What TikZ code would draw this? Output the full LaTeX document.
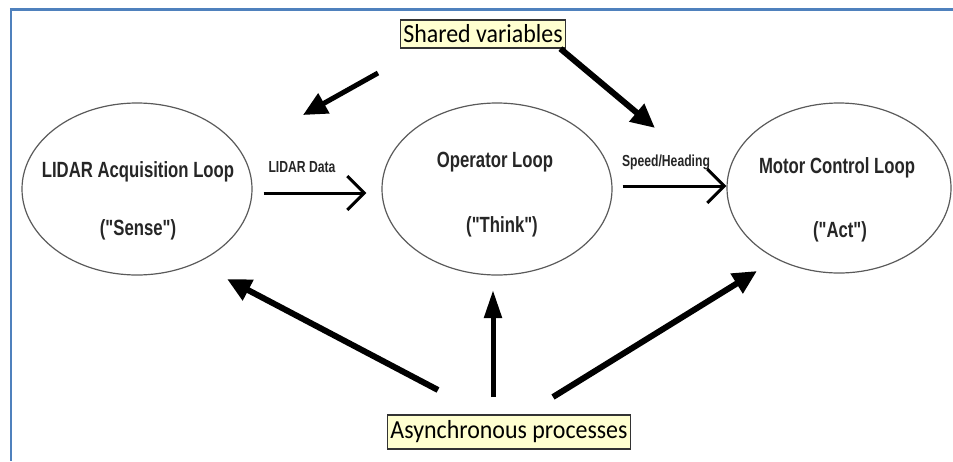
\documentclass[tikz,border=0pt]{standalone}
\usepackage{fontspec}
\usepackage{tikz}
\usetikzlibrary{arrows.meta,shapes.geometric}
\newfontfamily\loopfont[FakeStretch=0.76]{Liberation Sans}
\newfontfamily\notefont[FakeStretch=0.92]{Carlito}

\begin{document}
\begin{tikzpicture}[x=1pt,y=-1pt,
    loop/.style={draw=loopline, line width=1.2pt, ellipse, inner sep=0pt},
    looptext/.style={text=black!85, font=\loopfont\bfseries\fontsize{22}{26}\selectfont},
    datalabel/.style={text=black!85, font=\loopfont\bfseries\fontsize{16}{19}\selectfont},
    note/.style={draw=black!80, fill=notefill, line width=1.3pt, inner xsep=3pt, inner ysep=0pt,
        font=\notefont\fontsize{26}{30}\selectfont},
    flow/.style={line width=3pt, -{Straight Barb[length=17pt,width=34pt]}},
    fat/.style={line width=6pt, -{Triangle[length=24pt,width=22pt]}}]
    % Define colors
    \definecolor{frameblue}{RGB}{79,129,189}
    \definecolor{notefill}{RGB}{255,255,208}
    \definecolor{loopline}{RGB}{90,90,90}

    \useasboundingbox (0,0) rectangle (953,461);

    % Frame (top and left edge only)
    \draw[frameblue, line width=3pt] (9.75,9.5) -- (953,9.5);
    \draw[frameblue, line width=2.5pt] (11,8) -- (11,461);

    % The three loops
    \node[loop, minimum width=230pt, minimum height=172pt] (sense) at (137,189) {};
    \node[loop, minimum width=230pt, minimum height=172pt] (think) at (497,189) {};
    \node[loop, minimum width=224pt, minimum height=170pt] (act) at (839,188) {};

    \node[looptext] (sensename) at (138,172) {LIDAR Acquisition Loop};
    \node[looptext] (sensetag) at (138,230) {("Sense")};
    \node[looptext] (thinkname) at (495,162) {Operator Loop};
    \node[looptext] (thinktag) at (502,227) {("Think")};
    \node[looptext] (actname) at (837,168) {Motor Control Loop};
    \node[looptext] (acttag) at (840,232) {("Act")};

    % Data passed between loops
    \node[datalabel] (lidardata) at (302,167) {LIDAR Data};
    \node[datalabel] (speedheading) at (666,162) {Speed/Heading};
    \draw[flow] ([xshift=11pt,yshift=-4pt]sense.east) -- ([xshift=-15pt,yshift=-4pt]think.west);
    \draw[flow] ([xshift=10pt,yshift=3pt]think.east) -- ([yshift=2pt]act.west);

    % Notes
    \node[note, minimum height=28pt] (shared) at (483,34) {Shared variables};
    \node[note, minimum height=34pt] (async) at (509,432) {Asynchronous processes};

    % Arrow ends
    \coordinate (sharedleft) at (378,73);
    \coordinate (sensetop) at (303,115);
    \coordinate (actleft) at (655,128);
    \coordinate (asyncleft) at (438,390);
    \coordinate (sensebottom) at (227,279);
    \coordinate (asyncmid) at (493,397);
    \coordinate (thinkbottom) at (493,290);
    \coordinate (asyncright) at (553,397);
    \coordinate (actbottom) at (757,271);

    \draw[fat, line width=5pt] (sharedleft) -- (sensetop);
    \draw[fat] ([xshift=-6pt]shared.south east) -- (actleft);
    \draw[fat] (asyncleft) -- (sensebottom);
    \draw[line width=5pt, -{Triangle[length=28pt,width=17pt]}] (asyncmid) -- (thinkbottom);
    \draw[fat] (asyncright) -- (actbottom);
\end{tikzpicture}
\end{document}
